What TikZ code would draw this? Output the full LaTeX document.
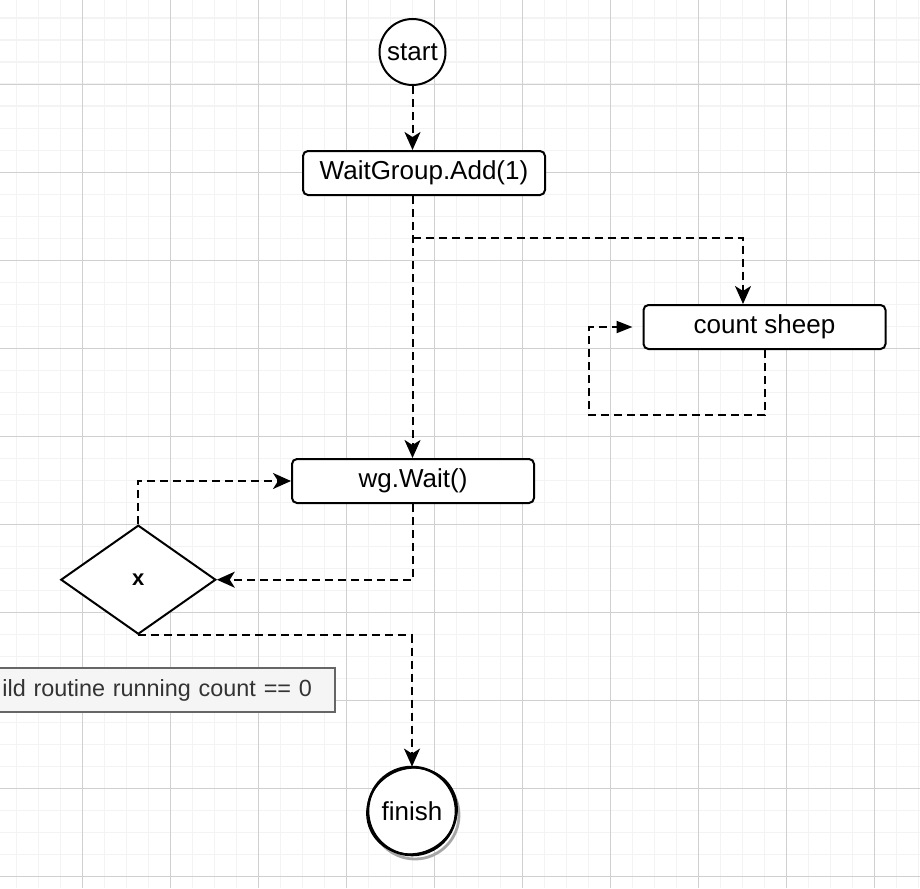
\documentclass[tikz,border=0pt]{standalone}
\usepackage{fontspec}
\setmainfont{Liberation Sans}
\usetikzlibrary{arrows.meta,shapes.geometric}
\definecolor{minorgrid}{HTML}{F3F3F3}
\definecolor{majorgrid}{HTML}{D0D0D0}
\definecolor{notefill}{HTML}{F5F5F5}
\definecolor{noteline}{HTML}{666666}
\definecolor{notetext}{HTML}{333333}
\begin{document}
\begin{tikzpicture}[x=0.5pt, y=-0.5pt,
  proc/.style={rectangle, rounded corners=2.5pt, draw, line width=1pt, fill=white, minimum width=121pt, minimum height=22pt, inner sep=0pt, font=\fontsize{13}{15}\selectfont},
  term/.style={circle, draw, line width=1pt, fill=white, minimum size=33pt, inner sep=0pt, font=\fontsize{13}{15}\selectfont},
  flow/.style={line width=1pt, dash pattern=on 4pt off 2.5pt, -{Stealth[length=9pt,width=8pt,inset=2.5pt]}},
  loopflow/.style={flow, -{Triangle[length=8pt,width=6pt]}, shorten >=5pt}]
\useasboundingbox (0,0) rectangle (920,888);
% grid
\foreach \i in {0,...,41} \draw[minorgrid, line width=0.8pt] (16.5+22*\i,0) -- (16.5+22*\i,888);
\foreach \i in {0,...,39} \draw[minorgrid, line width=0.8pt] (0,18.3+22*\i) -- (920,18.3+22*\i);
\foreach \i in {0,...,9} \draw[majorgrid, line width=0.5pt] (82.5+88*\i,0) -- (82.5+88*\i,888);
\foreach \i in {0,...,9} \draw[majorgrid, line width=0.5pt] (0,84.3+88*\i) -- (920,84.3+88*\i);

\node[term] (start) at (412.5,52) {start};
\node[proc] (add) at (424,173) {WaitGroup.Add(1)};
\node[proc] (sheep) at (764.5,327) {count sheep};
\node[proc] (wait) at (413,481) {wg.Wait()};
\node[diamond, draw, line width=1pt, fill=white, minimum width=77.5pt, minimum height=54.5pt, inner sep=0pt, font=\bfseries\fontsize{11}{13}\selectfont] (check) at (138.3,579.7) {x};
\node[rectangle, draw=noteline, fill=notefill, text=notetext, line width=1pt, anchor=east, text width=200pt, align=right, inner xsep=11.5pt, minimum height=22pt, font=\fontsize{11.7}{14}\selectfont] (note) at (336,690) {ild routine running count == 0};

% sketchy finish
\coordinate (fin) at (412,811);
\draw[black!35, line width=1.4pt] ([shift={(3,4)}]fin) circle (22pt);
\draw[line width=1.3pt, fill=white] (fin) circle (22pt);
\draw[line width=0.8pt, rotate around={25:(fin)}] (fin) ellipse (22.8pt and 21.3pt);
\node[circle, minimum size=44pt, inner sep=0pt, font=\fontsize{13}{15}\selectfont] (finish) at (fin) {finish};

\coordinate (fork) at (743,238);
\coordinate (loop) at (589,415);
\draw[flow] (start) -- (start |- add.north);
\draw[flow] (start |- add.south) -- (start |- wait.north);
\draw[flow] (start |- fork) -- (fork) -- (fork |- sheep.north);
\draw[loopflow] (sheep.south) |- (loop) |- (sheep.west);
\draw[flow] (wait.south) |- (check.east);
\draw[flow] (check.north) |- (wait.west);
\draw[flow] (check.south) -| (finish.north);
\end{tikzpicture}
\end{document}
